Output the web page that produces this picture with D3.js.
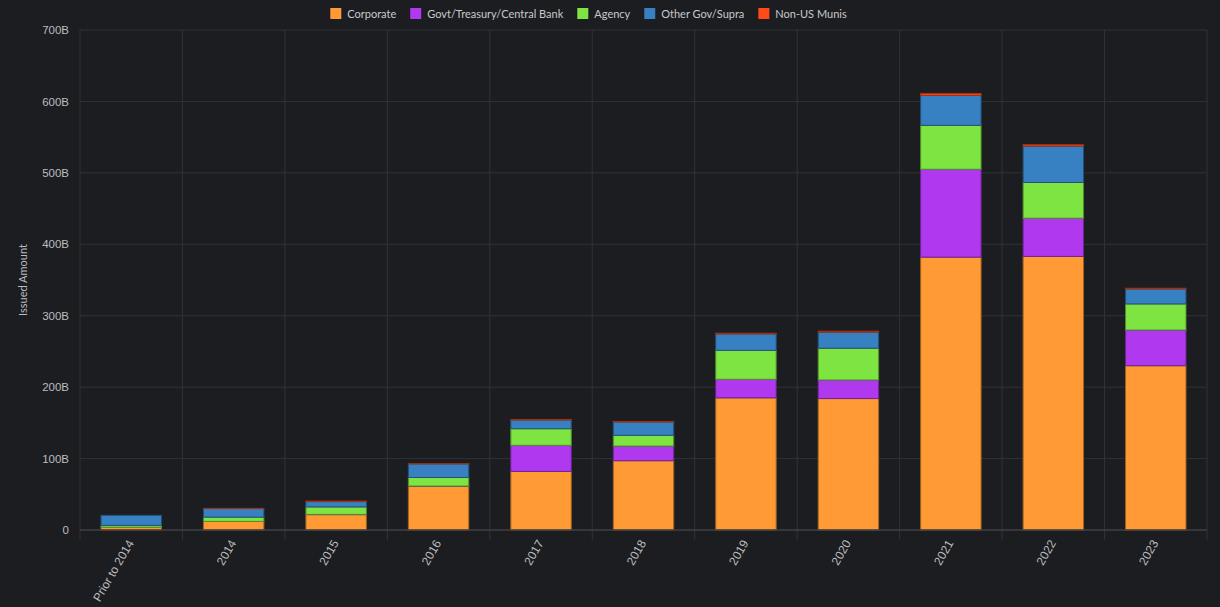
<!DOCTYPE html>
<html lang="en">
<head>
<meta charset="UTF-8">
<title>Issued Amount by Year</title>
<script src="https://d3js.org/d3.v7.min.js"></script>
<style>
  body { margin: 0; background: #1c1d21; }
  svg { display: block; font-family: Lato, "Open Sans", sans-serif; }
</style>
</head>
<body>
<svg id="chart" width="1220" height="607"></svg>
<script>
const years = ["Prior to 2014", "2014", "2015", "2016", "2017", "2018", "2019", "2020", "2021", "2022", "2023"];
const seriesNames = ["Corporate", "Govt/Treasury/Central Bank", "Agency", "Other Gov/Supra", "Non-US Munis"];
const seriesColors = ["#ff9a35", "#b039ef", "#7de442", "#3781c2", "#ff4b1a"];

// values in billions
const corporate = [4, 12, 21.5, 61, 82, 97, 185, 184, 382, 383, 230];
const govt      = [0, 0, 0.3, 0.5, 36.5, 20.5, 26, 26, 123, 53.5, 50];
const agency    = [2.5, 6, 10.5, 12, 23.3, 15, 40.5, 44.5, 61.5, 50, 36.5];
const otherGov  = [14, 12, 7.5, 19, 12.2, 18.7, 23, 22.5, 42, 51, 21];
const munis     = [0, 0.3, 0.8, 0.3, 0.8, 0.8, 1, 1.4, 2.8, 2, 1];
const yTicks = [0, 100, 200, 300, 400, 500, 600, 700];

const svg = d3.select("#chart");
const margin = { top: 30, right: 13, bottom: 77, left: 80 };
const width = +svg.attr("width");
const height = +svg.attr("height");
const chartWidth = width - margin.left - margin.right;
const chartHeight = height - margin.top - margin.bottom;

svg.append("rect").attr("width", width).attr("height", height).attr("fill", "#1c1d21");

const g = svg.append("g").attr("transform", `translate(${margin.left},${margin.top})`);

const rows = years.map((y, i) => ({
  year: y,
  "Corporate": corporate[i],
  "Govt/Treasury/Central Bank": govt[i],
  "Agency": agency[i],
  "Other Gov/Supra": otherGov[i],
  "Non-US Munis": munis[i]
}));

const x = d3.scaleBand().domain(years).range([0, chartWidth])
  .paddingInner(0.41).paddingOuter(0.205);
const y = d3.scaleLinear().domain([0, 700]).range([chartHeight, 0]);
const color = d3.scaleOrdinal().domain(seriesNames).range(seriesColors);

// horizontal grid
g.append("g").selectAll("line").data(yTicks.filter(t => t > 0)).join("line")
  .attr("x1", 0).attr("x2", chartWidth)
  .attr("y1", d => y(d)).attr("y2", d => y(d))
  .attr("stroke", "#313237").attr("stroke-width", 1);

// vertical grid at band edges
const step = x.step();
g.append("g").selectAll("line").data(d3.range(years.length + 1)).join("line")
  .attr("x1", d => d * step).attr("x2", d => d * step)
  .attr("y1", 0).attr("y2", chartHeight + 10)
  .attr("stroke", "#313237").attr("stroke-width", 1);

// y axis labels
const yAxis = d3.axisLeft(y).tickValues(yTicks).tickSize(0).tickPadding(11)
  .tickFormat(d => d === 0 ? "0" : d + "B");
g.append("g").call(yAxis)
  .call(a => a.select(".domain").remove())
  .selectAll("text").attr("fill", "#bbbcbf").attr("font-size", 11.5);

// stacked bars
const stack = d3.stack().keys(seriesNames);
const layers = stack(rows);

g.append("g").selectAll("g").data(layers).join("g")
  .attr("fill", d => color(d.key))
  .attr("stroke", d => d3.color(color(d.key)).darker(1.3))
  .attr("stroke-width", 1)
  .selectAll("rect").data(d => d).join("rect")
  .attr("x", d => x(d.data.year))
  .attr("width", x.bandwidth())
  .attr("y", d => y(d[1]))
  .attr("height", d => Math.max(0, y(d[0]) - y(d[1])));

// zero axis line
g.append("line")
  .attr("x1", 0).attr("x2", chartWidth)
  .attr("y1", y(0)).attr("y2", y(0))
  .attr("stroke", "#404145").attr("stroke-width", 1.5);

// x axis labels
const xAxis = d3.axisBottom(x).tickSize(0).tickPadding(0);
g.append("g").attr("transform", `translate(0,${chartHeight})`).call(xAxis)
  .call(a => a.select(".domain").remove())
  .selectAll("text")
  .attr("fill", "#bbbcbf").attr("font-size", 12)
  .attr("text-anchor", "end")
  .attr("dy", 0)
  .attr("transform", "translate(3,13) rotate(-60)");

// y title
svg.append("text")
  .attr("transform", `translate(27,${margin.top + chartHeight / 2}) rotate(-90)`)
  .attr("text-anchor", "middle")
  .attr("fill", "#bbbcbf").attr("font-size", 11)
  .text("Issued Amount");

// legend
const legend = svg.append("g");
let lx = 0;
seriesNames.forEach((name, i) => {
  const item = legend.append("g").attr("transform", `translate(${lx},0)`);
  item.append("rect").attr("x", 0).attr("y", 8).attr("width", 11).attr("height", 11)
    .attr("fill", seriesColors[i]);
  const t = item.append("text").attr("x", 17).attr("y", 17.5)
    .attr("fill", "#c8c9cc").attr("font-size", 11).text(name);
  lx += 17 + t.node().getComputedTextLength() + 14;
});
const legendWidth = lx - 14;
legend.attr("transform", `translate(${588.5 - legendWidth / 2},0)`);
</script>
</body>
</html>
